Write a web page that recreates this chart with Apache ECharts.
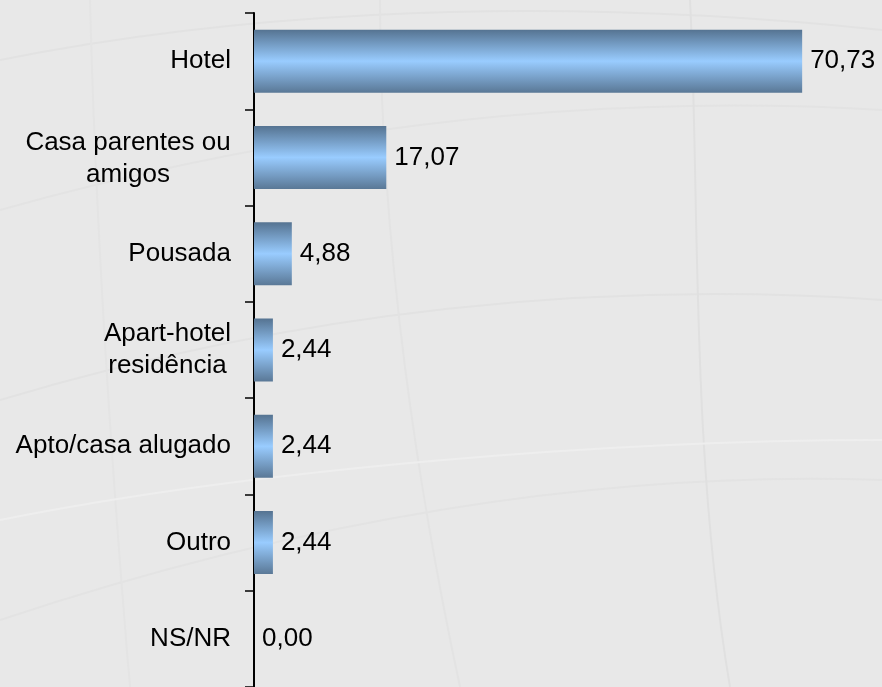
<!DOCTYPE html>
<html>
<head>
<meta charset="utf-8">
<script src="https://cdn.jsdelivr.net/npm/echarts@6/dist/echarts.min.js"></script>
<style>
html,body{margin:0;padding:0;background:#e8e8e8;}
#chart{width:882px;height:687px;}
</style>
</head>
<body>
<div id="chart"></div>
<script>
// dados (percentual)
var categorias = ['Hotel', 'Casa parentes ou\namigos', 'Pousada', 'Apart-hotel\nresidência', 'Apto/casa alugado', 'Outro', 'NS/NR'];
var valores = [70.73, 17.07, 4.88, 2.44, 2.44, 2.44, 0.00];
var eixoMax = 80;

var chart = echarts.init(document.getElementById('chart'));

// barra com brilho no meio (cilindro)
var corBarra = new echarts.graphic.LinearGradient(0, 0, 0, 1, [
	{offset: 0, color: '#557391'},
	{offset: 0.5, color: '#99ccff'},
	{offset: 1, color: '#5a7896'}
]);

// linhas suaves do fundo
function curva(pts, cor){
	return {
		type: 'bezierCurve',
		silent: true,
		z: -10,
		shape: {x1: pts[0], y1: pts[1], cpx1: pts[2], cpy1: pts[3], cpx2: pts[4], cpy2: pts[5], x2: pts[6], y2: pts[7]},
		style: {stroke: cor, lineWidth: 2, fill: null}
	};
}

var fonte = 'Liberation Sans, Arial, sans-serif';

var option = {
	backgroundColor: '#e8e8e8',
	animation: false,
	graphic: [
		curva([0, 60, 200, 20, 500, -10, 882, 30], '#e2e2e2'),
		curva([0, 210, 250, 140, 550, 90, 882, 110], '#e3e3e3'),
		curva([0, 400, 300, 310, 600, 280, 882, 300], '#e2e2e2'),
		curva([0, 620, 300, 520, 600, 470, 882, 480], '#e3e3e3'),
		curva([690, 0, 700, 200, 690, 450, 730, 687], '#e0e0e0'),
		curva([380, 0, 380, 250, 420, 500, 460, 687], '#e3e3e3'),
		curva([90, 0, 95, 200, 110, 450, 130, 687], '#e4e4e4'),
		curva([0, 520, 250, 470, 600, 440, 882, 440], '#eeeeee')
	],
	grid: {left: 254, top: 13, width: 620, height: 675, containLabel: false},
	xAxis: {
		type: 'value',
		min: 0,
		max: eixoMax,
		show: false
	},
	yAxis: {
		type: 'category',
		inverse: true,
		data: categorias,
		axisLine: {show: true, lineStyle: {color: '#000', width: 2}},
		axisTick: {show: true, length: 9, lineStyle: {color: '#000', width: 1.5}},
		axisLabel: {
			margin: 23,
			fontFamily: fonte,
			fontSize: 26,
			color: '#000',
			lineHeight: 32,
			formatter: function(v){
				if(v.indexOf('\n') < 0) return v;
				var linhas = v.split('\n');
				var est = v.indexOf('Casa') === 0 ? 'c1' : 'c2';
				return linhas.map(function(l){ return '{' + est + '|' + l + '}'; }).join('\n');
			},
			rich: {
				c1: {width: 206, align: 'center', fontSize: 26, lineHeight: 32, padding: [2, 0, 0, 0], color: '#000', fontFamily: fonte},
				c2: {width: 127, align: 'center', fontSize: 26, lineHeight: 32, color: '#000', fontFamily: fonte}
			}
		}
	},
	series: [{
		type: 'bar',
		data: valores,
		barWidth: 63,
		itemStyle: {color: corBarra},
		label: {
			show: true,
			position: 'right',
			distance: 8,
			fontFamily: fonte,
			fontSize: 26,
			color: '#000',
			formatter: function(p){ return p.value.toFixed(2).replace('.', ','); }
		}
	}]
};

chart.setOption(option);
</script>
</body>
</html>
